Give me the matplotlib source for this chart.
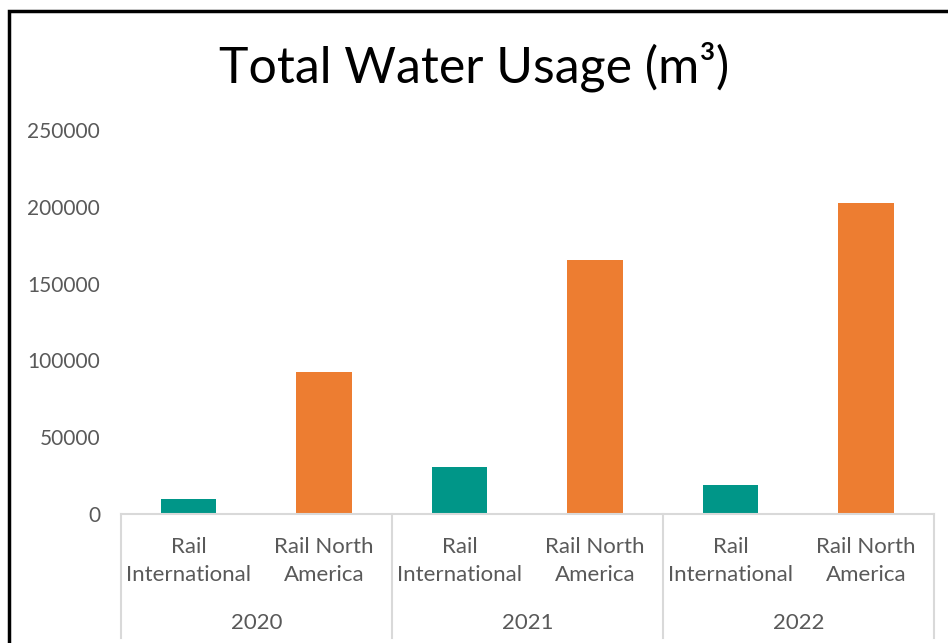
import numpy as np
import matplotlib.pyplot as plt
from matplotlib.patches import Rectangle
import matplotlib.transforms as mtransforms

plt.rcParams['font.family'] = ['Lato', 'DejaVu Sans']

years = ['2020', '2021', '2022']
units = ['Rail\nInternational', 'Rail North\nAmerica']
rail_international = [9700, 30500, 18800]
rail_north_america = [92200, 165600, 202600]
y_ticks = [0, 50000, 100000, 150000, 200000, 250000]

teal = '#009688'
orange = '#ED7D31'
grey_txt = '#595959'
grey_line = '#D9D9D9'

fig = plt.figure(figsize=(9.48, 6.43), dpi=100)
ax = fig.add_axes([0.1276, 0.2006, 0.8576, 0.5972])

x = np.arange(len(years) * len(units))
vals = []
cols = []
for i in range(len(years)):
    vals += [rail_international[i], rail_north_america[i]]
    cols += [teal, orange]
ax.bar(x, vals, width=0.41, color=cols, zorder=2)

ax.set_xlim(-0.5, len(x) - 0.5)
ax.set_ylim(0, 250000)
ax.set_yticks(y_ticks)
ax.set_yticklabels([str(t) for t in y_ticks], color=grey_txt, fontsize=15)
ax.tick_params(axis='y', length=0, pad=15)
ax.set_xticks([])
for s in ['left', 'right', 'top']:
    ax.spines[s].set_visible(False)
ax.spines['bottom'].set_color(grey_line)
ax.spines['bottom'].set_linewidth(1.5)

# two-level category axis
trans = mtransforms.blended_transform_factory(ax.transData, fig.transFigure)
for i, yr in enumerate(years):
    for j, u in enumerate(units):
        ax.text(i * 2 + j, (643 - 561) / 643, u, transform=trans, ha='center',
                va='center', fontsize=16, color=grey_txt, linespacing=1.45)
    ax.text(i * 2 + 0.5, (643 - 623) / 643, yr, transform=trans, ha='center',
            va='center', fontsize=16, color=grey_txt)
for b in np.arange(-0.5, len(x), 2):
    ax.plot([b, b], [(643 - 514) / 643, (643 - 638) / 643], transform=trans,
            color=grey_line, lw=1.5, clip_on=False)

fig.text(0.5, (643 - 67) / 643, 'Total Water Usage (m³)', ha='center',
         va='center', fontsize=36, color='black')

fig.patches.append(Rectangle((9 / 948, -0.1), 1.2, (643 - 11) / 643 + 0.1,
                             transform=fig.transFigure, fill=False,
                             edgecolor='black', lw=2.5))

fig.savefig('out.png', dpi=100)
